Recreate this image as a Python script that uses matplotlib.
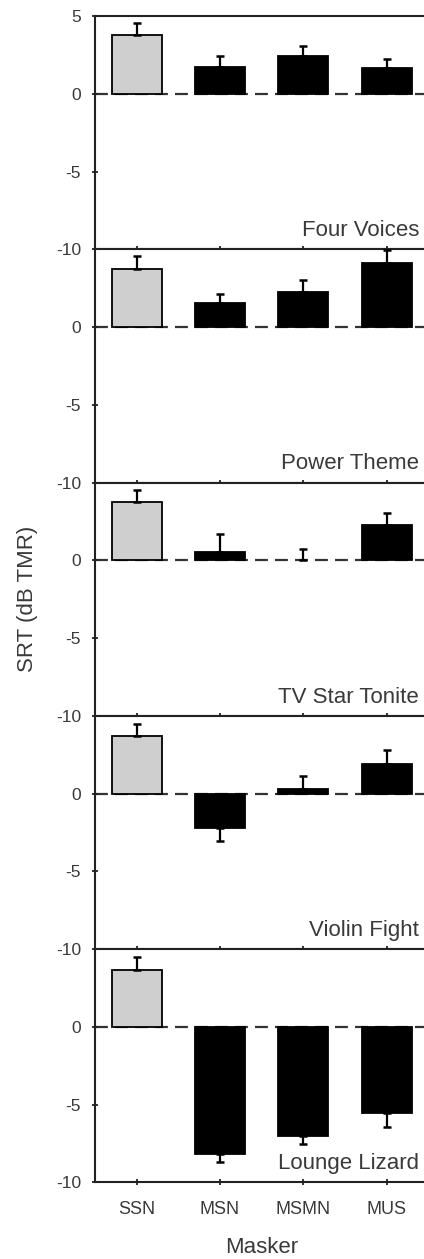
import matplotlib
matplotlib.use("Agg")
import matplotlib.pyplot as plt
import numpy as np

plt.rcParams['font.family'] = ['Liberation Sans', 'DejaVu Sans']

categories = ['SSN', 'MSN', 'MSMN', 'MUS']
panel_names = ['Four Voices', 'Power Theme', 'TV Star Tonite', 'Violin Fight', 'Lounge Lizard']

four_voices = [3.8, 1.7, 2.4, 1.63]
four_voices_err = [0.75, 0.75, 0.67, 0.6]
power_theme = [3.75, 1.55, 2.26, 4.1]
power_theme_err = [0.8, 0.6, 0.76, 0.88]
tv_star_tonite = [3.76, 0.54, 0.0, 2.26]
tv_star_tonite_err = [0.76, 1.18, 0.7, 0.78]
violin_fight = [3.73, -2.24, 0.3, 1.9]
violin_fight_err = [0.77, 0.8, 0.84, 0.88]
lounge_lizard = [3.68, -8.15, -7.04, -5.57]
lounge_lizard_err = [0.79, 0.57, 0.47, 0.88]

values = [four_voices, power_theme, tv_star_tonite, violin_fight, lounge_lizard]
errors = [four_voices_err, power_theme_err, tv_star_tonite_err, violin_fight_err, lounge_lizard_err]

W, H = 424, 1259
fig = plt.figure(figsize=(W / 100, H / 100), dpi=100)

left_px, right_px = 95, 424
top_px, panel_h = 16, 233.26
text_col = '#3a3a3a'
x = np.arange(len(categories))
colors = ['#cfcfcf', 'black', 'black', 'black']

for i, (vals, errs, name) in enumerate(zip(values, errors, panel_names)):
    y0 = top_px + i * panel_h
    ax = fig.add_axes([left_px / W, 1 - (y0 + panel_h) / H, (right_px - left_px) / W, panel_h / H])
    ax.set_xlim(-0.5, 3.448)
    ax.set_ylim(-10, 5)
    ax.axhline(0, color='#333333', lw=1.6, linestyle=(0, (5.8, 3.2)), zorder=1)
    vals = np.array(vals)
    errs = np.array(errs)
    lw = [0 if abs(v) < 0.05 else 1.3 for v in vals]
    ax.bar(x, vals, width=0.6, color=colors, edgecolor='black', linewidth=lw, zorder=2)
    lower = np.where(vals < 0, errs, 0)
    upper = np.where(vals >= 0, errs, 0)
    ax.errorbar(x, vals, yerr=[lower, upper], fmt='none', ecolor='black', elinewidth=1.6,
                capsize=2.7, capthick=1.8, zorder=3)
    ax.text(3.39, -9.15, name, ha='right', va='baseline', fontsize=16, color=text_col)
    for s in ['left', 'top', 'bottom']:
        ax.spines[s].set_linewidth(1.5)
        ax.spines[s].set_color('#222222')
    ax.spines['right'].set_visible(False)
    if i == 0:
        ax.set_yticks([5, 0, -5, -10])
        ax.set_yticklabels(['5', '0', '-5', '-10'])
    else:
        ax.set_yticks([0, -5, -10])
        ax.set_yticklabels(['0', '-5', '-10'])
    ax.set_xticks(x)
    ax.tick_params(axis='y', direction='inout', length=4, width=1.3, pad=8, labelsize=12.5,
                   labelcolor=text_col, color='#222222')
    ax.tick_params(axis='x', direction='inout', length=4.5, width=1.3, pad=11, labelsize=13,
                   labelcolor=text_col, color='#222222')
    if i == len(values) - 1:
        ax.set_xticklabels(categories)
    else:
        ax.set_xticklabels([])

fig.text(28 / W, 1 - 599 / H, 'SRT (dB TMR)', rotation=90, ha='center', va='center',
         fontsize=16, color=text_col)
fig.text(262 / W, 1 - 1253 / H, 'Masker', ha='center', va='baseline', fontsize=16, color=text_col)

fig.savefig('out.png', dpi=100)
